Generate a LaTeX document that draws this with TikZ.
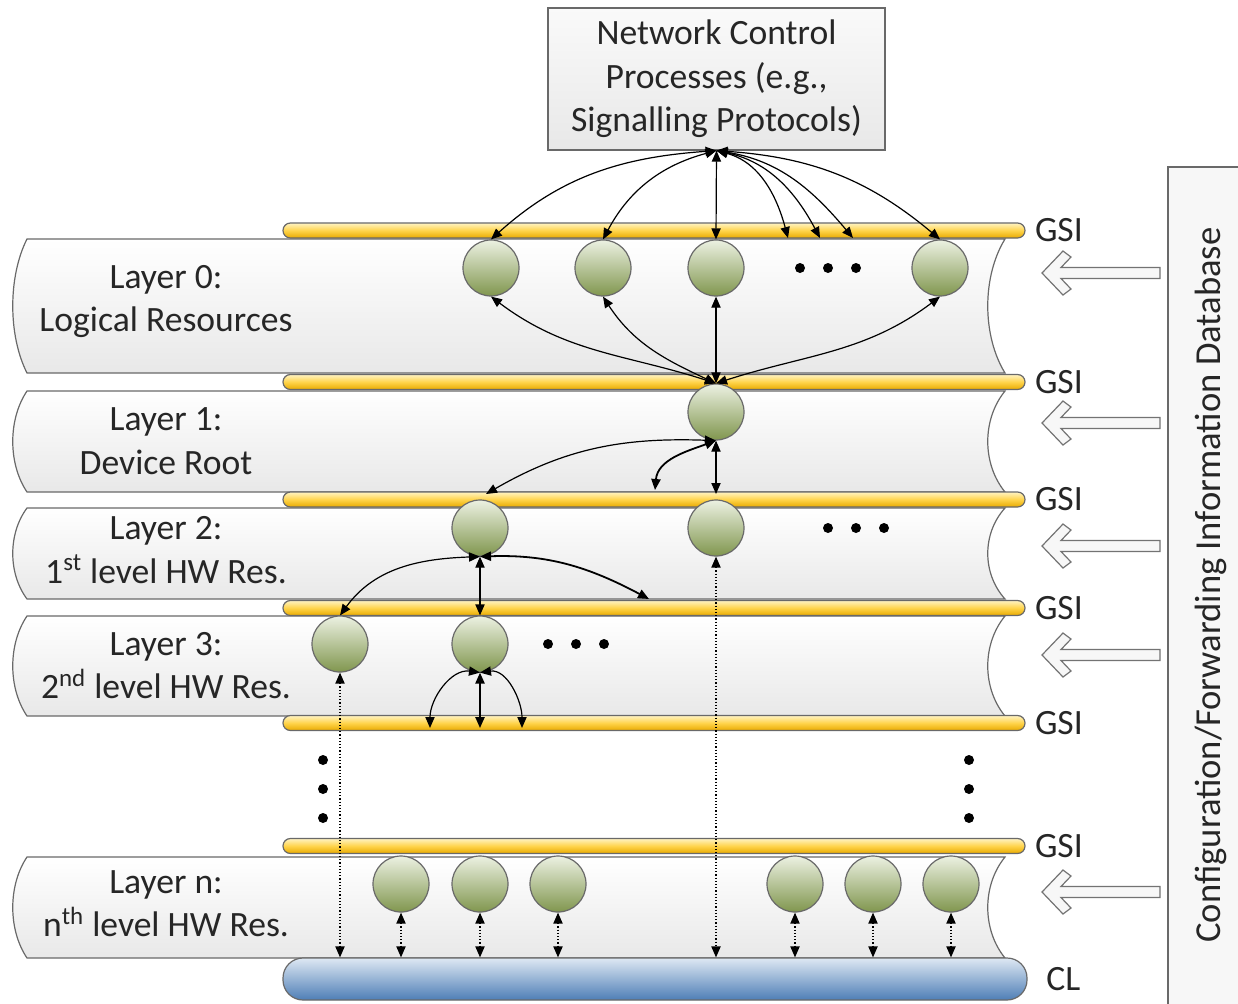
\documentclass[tikz,border=0pt]{standalone}
\usepackage{fontspec}
\setmainfont{Carlito}
\usetikzlibrary{arrows.meta}
\definecolor{edge}{RGB}{105,105,105}
\definecolor{barTop}{RGB}{255,243,195}
\definecolor{barMid}{RGB}{255,212,75}
\definecolor{barBot}{RGB}{232,170,0}
\definecolor{clTop}{RGB}{222,232,243}
\definecolor{clBot}{RGB}{78,126,182}
\definecolor{resTop}{RGB}{236,241,226}
\definecolor{resBot}{RGB}{128,150,78}
\newcommand{\layerpath}[2]{%
  \path[layer] (27,-#1) -- (1005,-#1)
    .. controls (982,{-(#1+0.28*(#2-#1))}) and (982,{-(#2-0.28*(#2-#1))}) .. (1005,-#2)
    -- (27,-#2)
    .. controls (8,{-(#2-0.28*(#2-#1))}) and (8,{-(#1+0.28*(#2-#1))}) .. (27,-#1) -- cycle;}
\newcommand{\dbarrow}[1]{%
  \draw[hollowarrow] (1042,-#1) -- (1063,{-#1+22}) -- (1071,{-#1+16}) -- (1061,{-#1+5.5})
    -- (1160,{-#1+5.5}) -- (1160,{-#1-5.5}) -- (1061,{-#1-5.5}) -- (1071,{-#1-16})
    -- (1063,{-#1-22}) -- cycle;}
\begin{document}
\begin{tikzpicture}[x=0.5pt,y=0.5pt,
  txt/.style={font=\fontsize{17.8}{21.7}\selectfont, text=black!85, inner sep=0pt},
  layer/.style={draw=edge, line width=0.6pt, top color=white, bottom color=black!9},
  gsibar/.style={draw=edge, line width=0.6pt, rounded corners=3.7pt, minimum width=371pt,
    minimum height=7.5pt, inner sep=0pt, top color=barTop, bottom color=barBot, middle color=barMid},
  clbar/.style={draw=edge, line width=0.6pt, rounded corners=10pt, minimum width=372pt,
    minimum height=21pt, inner sep=0pt, top color=clTop, bottom color=clBot},
  res/.style={circle, draw=edge, line width=0.6pt, minimum size=28pt, inner sep=0pt,
    top color=resTop, bottom color=resBot},
  conn/.style={<->, >={Triangle[length=5.5pt,width=4.6pt]}, line width=0.6pt, black},
  bconn/.style={conn, line width=0.9pt},
  dconn/.style={conn, densely dotted, line width=0.65pt},
  hollowarrow/.style={draw=black!55, line width=0.6pt, fill=black!3},
  dot/.style={fill=black}
]
\useasboundingbox (0,0) rectangle (1238,-1003);
\begin{scope}
\clip (0,0) rectangle (1238,-1003);
% database box
\path[fill=black!3] (1168,-167) rectangle (1250,-1010);
\draw[draw=edge, line width=0.6pt] (1250,-167) -- (1168,-167) -- (1168,-1010);
\end{scope}
\node[txt, rotate=90, font=\fontsize{18.3}{22}\selectfont] (db) at (1211,-585) {Configuration/Forwarding Information Database};

% layers
\layerpath{239}{373}
\layerpath{391}{492}
\layerpath{508}{599}
\layerpath{616}{716}
\layerpath{857}{958}

% layer labels
\node[txt, align=center] (L0) at (166,-301.5) {Layer 0:\\Logical Resources};
\node[txt, align=center] (L1) at (166,-441) {Layer 1:\\Device Root};
\node[txt, align=center] (L2) at (166,-550) {Layer 2:\\1\textsuperscript{st} level HW Res.};
\node[txt, align=center] (L3) at (166,-665.5) {Layer 3:\\2\textsuperscript{nd} level HW Res.};
\node[txt, align=center] (Ln) at (166,-904) {Layer n:\\n\textsuperscript{th} level HW Res.};

% bars
\node[gsibar] (g0) at (654,-230.5) {};
\node[gsibar] (g1) at (654,-382) {};
\node[gsibar] (g2) at (654,-499.5) {};
\node[gsibar] (g3) at (654,-608) {};
\node[gsibar] (g4) at (654,-723) {};
\node[gsibar] (g5) at (654,-846) {};
\node[clbar] (cl) at (655,-979) {};
\foreach \b in {g0,g1,g2,g3,g4,g5}
  \node[txt, anchor=west] (\b lab) at ([xshift=4.5pt]\b.east) {GSI};
\node[txt, anchor=west] (cllab) at (1046,-979) {CL};

% hollow arrows
\dbarrow{273}
\dbarrow{423}
\dbarrow{546}
\dbarrow{655}
\dbarrow{892}

% top box
\node[txt, draw=edge, line width=0.6pt, top color=black!2, bottom color=black!9,
  minimum width=168.5pt, minimum height=71pt, align=center] (ncp) at (716.5,-79)
  {Network Control\\Processes (e.g.,\\Signalling Protocols)};

% resources
\node[res] (c01) at (491,-268) {};
\node[res] (c02) at (603,-268) {};
\node[res] (c03) at (716,-268) {};
\node[res] (c04) at (940,-268) {};
\node[res] (c1) at (716,-412) {};
\node[res] (c2a) at (480,-528) {};
\node[res] (c2b) at (716,-528) {};
\node[res] (c3a) at (340,-644) {};
\node[res] (c3b) at (480,-644) {};
\node[res] (na) at (401,-884) {};
\node[res] (nb) at (480,-884) {};
\node[res] (nc) at (558,-884) {};
\node[res] (nd) at (795,-884) {};
\node[res] (ne) at (873,-884) {};
\node[res] (nf) at (951,-884) {};

% dots
\foreach \x in {800,828,856} \fill[dot] (\x,-268) circle (5);
\foreach \x in {828,856,884} \fill[dot] (\x,-528) circle (5);
\foreach \x in {548,576,604} \fill[dot] (\x,-644) circle (5);
\foreach \y in {760,789,818} {\fill[dot] (323,-\y) circle (5); \fill[dot] (969,-\y) circle (5);}

% coordinates on bars
\coordinate (g0a) at (788,-238);
\coordinate (g0b) at (820,-238);
\coordinate (g0c) at (853,-238);
\coordinate (g2a) at (486,-494);
\coordinate (g2b) at (655,-490);
\coordinate (g2v) at (716,-494);
\coordinate (g3a) at (649,-599);
\coordinate (g4a) at (430,-728);
\coordinate (g4b) at (480,-728);
\coordinate (g4c) at (522,-728);

% top connectors
\draw[conn] (ncp.south) to[out=184,in=42] (c01.north);
\draw[conn] (ncp.south) to[out=195,in=62] (c02.north);
\draw[conn] (ncp.south) -- (c03.north);
\draw[conn] (ncp.south) to[out=-15,in=105] (g0a);
\draw[conn] (ncp.south) to[out=-12,in=118] (g0b);
\draw[conn] (ncp.south) to[out=-9,in=130] (g0c);
\draw[conn] (ncp.south) to[out=-4,in=140] (c04.north);

% layer 0 connectors
\draw[conn] (c1.north) to[out=162,in=-37] (c01.south);
\draw[conn] (c1.north) to[out=155,in=-57] (c02.south);
\draw[conn] (c1.north) -- (c03.south);
\draw[conn] (c1.north) to[out=18,in=-143] (c04.south);

% layer 1 connectors
\draw[conn] (c1.south) to[out=178,in=30] (g2a);
\draw[bconn] (c1.south) to[out=200,in=85] (g2b);
\draw[conn] (c1.south) -- (g2v);

% layer 2 connectors
\draw[conn] (c2a.south) to[out=182,in=54] (c3a.north);
\draw[bconn] (c2a.south) to[out=2,in=152] (g3a);
\draw[conn] (c2a.south) -- (c3b.north);

% layer 3 connectors
\draw[conn] (c3b.south) to[out=172,in=90] (g4a);
\draw[bconn] (c3b.south) -- (g4b);
\draw[conn] (c3b.south) to[out=8,in=90] (g4c);

% dotted connectors to CL
\draw[dconn] (c3a.south) -- (c3a.south |- cl.north);
\draw[dconn] (c2b.south) -- (c2b.south |- cl.north);
\foreach \n in {na,nb,nc,nd,ne,nf}
  \draw[dconn] (\n.south) -- (\n.south |- cl.north);
\end{tikzpicture}
\end{document}
